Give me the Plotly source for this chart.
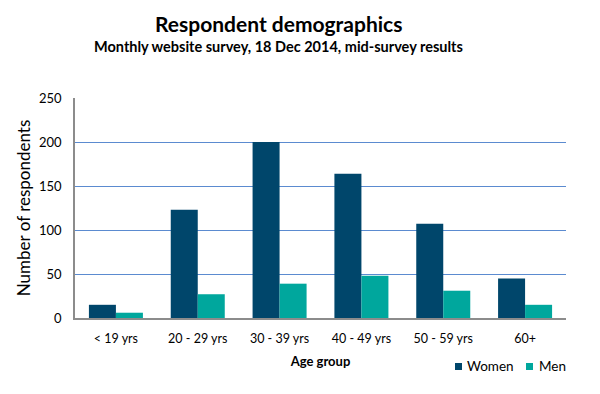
import plotly.graph_objects as go

categories = ["< 19 yrs", "20 - 29 yrs", "30 - 39 yrs", "40 - 49 yrs", "50 - 59 yrs", "60+"]
women = [15, 123, 200, 164, 107, 45]
men = [6, 27, 39, 48, 31, 15]
y_ticks = [0, 50, 100, 150, 200, 250]

FONT = "Lato, 'Open Sans', sans-serif"
W, H = 600, 394
ML, MR, MT, MB = 75, 34, 98, 76
COL_W, COL_M = "#00466b", "#00a79d"


def px(x):
    return (x - ML) / (W - ML - MR)


def py(y):
    return (H - MB - y) / (H - MT - MB)


fig = go.Figure()
fig.add_trace(go.Bar(name="Women", x=categories, y=women, marker=dict(color=COL_W, line=dict(width=0))))
fig.add_trace(go.Bar(name="Men", x=categories, y=men, marker=dict(color=COL_M, line=dict(width=0))))

annotations = [
    dict(text="<b>Respondent demographics</b>", x=px(278), y=py(24),
         font=dict(size=21, family=FONT)),
    dict(text="<b>Monthly website survey, 18 Dec 2014, mid-survey results</b>",
         x=px(278), y=py(47), font=dict(size=14.5, family=FONT)),
    dict(text="Women", x=px(465), y=py(366), xanchor="left", font=dict(size=13.5, family=FONT)),
    dict(text="Men", x=px(537), y=py(366), xanchor="left", font=dict(size=13.5, family=FONT)),
]
for a in annotations:
    a.setdefault("xanchor", "center")
    a.update(xref="paper", yref="paper", yanchor="middle", showarrow=False)

shapes = [
    dict(type="rect", xref="paper", yref="paper", x0=px(455), x1=px(462), y0=py(363), y1=py(370),
         fillcolor=COL_W, line=dict(width=0)),
    dict(type="rect", xref="paper", yref="paper", x0=px(526), x1=px(533), y0=py(363), y1=py(370),
         fillcolor=COL_M, line=dict(width=0)),
]

fig.update_layout(
    width=W, height=H,
    margin=dict(l=ML, r=MR, t=MT, b=MB, autoexpand=False),
    paper_bgcolor="white", plot_bgcolor="white",
    barmode="group", bargap=0.34, bargroupgap=0,
    showlegend=False,
    font=dict(family=FONT, color="#000000", size=12),
    xaxis=dict(
        showline=True, linecolor="#8c8c8c", linewidth=1.5,
        ticks="", tickfont=dict(size=12.5), ticklabelstandoff=8,
        title=dict(text="<b>Age group</b>", font=dict(size=13), standoff=12),
    ),
    yaxis=dict(
        range=[0, 250], tickvals=y_ticks,
        showgrid=True, gridcolor="#5b8bd0", gridwidth=1.2,
        showline=True, linecolor="#8c8c8c", linewidth=1.5,
        zeroline=False, ticks="", tickfont=dict(size=13), ticklabelstandoff=9,
        title=dict(text="Number of respondents", font=dict(size=17), standoff=4),
    ),
    annotations=annotations,
    shapes=shapes,
)

fig.write_html("out.html", config={"displayModeBar": False},
               post_script="document.body.style.margin='0px';")
